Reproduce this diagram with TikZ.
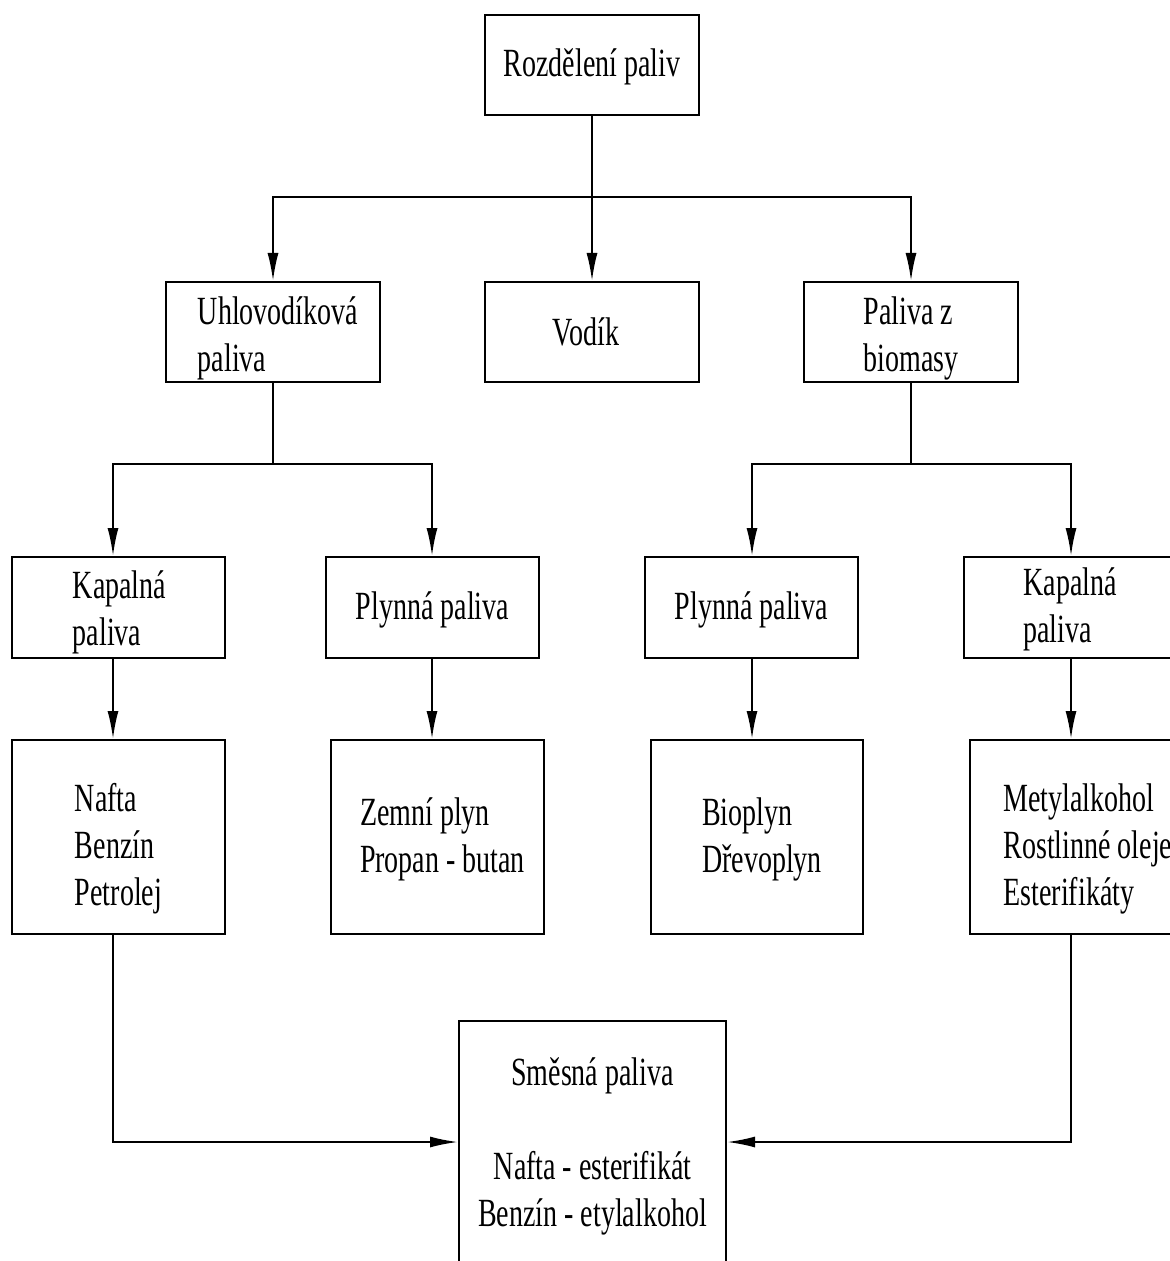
\documentclass[tikz,border=0pt]{standalone}
\usepackage{fontspec}
\setmainfont[FakeStretch=0.7]{Liberation Serif}
\usetikzlibrary{arrows.meta}
\begin{document}
\begin{tikzpicture}[x=0.5pt,y=-0.5pt,
  box/.style={draw,line width=1pt,rectangle,inner sep=0pt},
  txt/.style={inner sep=0pt,align=left,font=\fontsize{20pt}{23.5pt}\selectfont},
  arr/.style={line width=1pt,-{Latex[length=14pt,width=5.5pt]}}]
\useasboundingbox (0,0) rectangle (1170,1261);
\clip (0,0) rectangle (1170,1261);
% row 1
\node[box,minimum width=107pt,minimum height=50pt] (top) at (592,65) {};
% row 2
\node[box,minimum width=107pt,minimum height=50pt] (uh) at (273,332) {};
\node[box,minimum width=107pt,minimum height=50pt] (vod) at (592,332) {};
\node[box,minimum width=107pt,minimum height=50pt] (bio) at (911,332) {};
% row 3
\node[box,minimum width=106.5pt,minimum height=50.5pt] (kap1) at (118.5,607.5) {};
\node[box,minimum width=106.5pt,minimum height=50.5pt] (ply1) at (432.5,607.5) {};
\node[box,minimum width=106.5pt,minimum height=50.5pt] (ply2) at (751.5,607.5) {};
\node[box,minimum width=106pt,minimum height=50.5pt] (kap2) at (1070,607.5) {};
% row 4
\node[box,minimum width=106.5pt,minimum height=97pt] (naf) at (118.5,837) {};
\node[box,minimum width=106.5pt,minimum height=97pt] (zem) at (437.5,837) {};
\node[box,minimum width=106pt,minimum height=97pt] (bpl) at (757,837) {};
\node[box,minimum width=118pt,minimum height=97pt] (met) at (1088,837) {};
% bottom
\node[box,minimum width=133.5pt,minimum height=121pt] (mix) at (592.5,1142) {};
% texts
\node[txt] (top-t) at ([yshift=-1pt]top.center) {Rozdělení paliv};
\node[txt] (uh-t) at ([xshift=2.5pt,yshift=-3pt]uh.center) {Uhlovodíková\\paliva};
\node[txt] (vod-t) at ([xshift=-3pt,yshift=0pt]vod.center) {Vodík};
\node[txt] (bio-t) at ([yshift=-3pt]bio.center) {Paliva z\\biomasy};
\node[txt] (kap1-t) at ([xshift=0.5pt,yshift=-2.5pt]kap1.center) {Kapalná\\paliva};
\node[txt] (ply1-t) at ([yshift=-1pt]ply1.center) {Plynná paliva};
\node[txt] (ply2-t) at ([yshift=-1pt]ply2.center) {Plynná paliva};
\node[txt] (kap2-t) at ([yshift=-1pt]kap2.center) {Kapalná\\paliva};
\node[txt] (naf-t) at ([yshift=-6pt]naf.center) {Nafta\\Benzín\\Petrolej};
\node[txt] (zem-t) at ([xshift=2.5pt,yshift=-1pt]zem.center) {Zemní plyn\\Propan - butan};
\node[txt] (bpl-t) at ([xshift=2.5pt,yshift=-1pt]bpl.center) {Bioplyn\\Dřevoplyn};
\node[txt] (met-t) at ([yshift=-6pt]met.center) {Metylalkohol\\Rostlinné oleje\\Esterifikáty};
\node[txt,align=center] (mix-t) at ([yshift=-2pt]mix.center)
  {Směsná paliva\\[23.5pt]Nafta - esterifikát\\Benzín - etylalkohol};
% column coordinates
\coordinate (c1) at (113,0);
\coordinate (c2) at (432,0);
\coordinate (c3) at (752,0);
\coordinate (c4) at (1071,0);
\coordinate (j0) at (592,197);
\coordinate (j1) at (273,464);
\coordinate (j2) at (911,464);
% connectors
\draw[arr] (top) -- (j0) -| (uh);
\draw[arr] (j0) -- (vod);
\draw[arr] (j0) -| (bio);
\draw[arr] (uh) -- (j1) -| (c1 |- kap1.north);
\draw[arr] (j1) -| (c2 |- ply1.north);
\draw[arr] (bio) -- (j2) -| (c3 |- ply2.north);
\draw[arr] (j2) -| (c4 |- kap2.north);
\draw[arr] (c1 |- kap1.south) -- (c1 |- naf.north);
\draw[arr] (c2 |- ply1.south) -- (c2 |- zem.north);
\draw[arr] (c3 |- ply2.south) -- (c3 |- bpl.north);
\draw[arr] (c4 |- kap2.south) -- (c4 |- met.north);
\draw[arr] (c1 |- naf.south) |- (mix.west);
\draw[arr] (c4 |- met.south) |- (mix.east);
\end{tikzpicture}
\end{document}
